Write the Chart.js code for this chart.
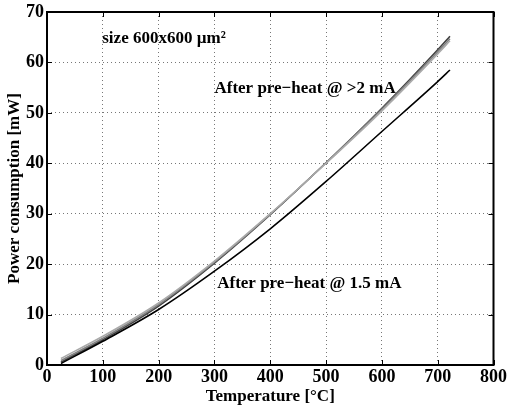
<!DOCTYPE html>
<html>
<head>
<meta charset="utf-8">
<script src="https://cdn.jsdelivr.net/npm/chart.js@4"></script>
<style>
  html, body { margin: 0; padding: 0; background: #fff; }
  #wrap { width: 510px; height: 407px; }
</style>
</head>
<body>
<div id="wrap"><canvas id="powerChart" width="510" height="407"></canvas></div>
<script>
// Temperatura [°C] en la que se midió cada curva
var temps = [25, 100, 200, 300, 400, 500, 600, 700, 722];

// Potencia [mW] - tres medidas después del precalentamiento a >2 mA
var preheat2mA_a = [0.6, 5.0, 11.7, 20.2, 29.8, 40.1, 50.9, 62.5, 65.2];
var preheat2mA_b = [0.9, 5.3, 12.0, 20.4, 29.9, 40.1, 50.7, 62.1, 64.7];
var preheat2mA_c = [1.3, 5.7, 12.3, 20.6, 30.0, 40.0, 50.4, 61.7, 64.3];

// Potencia [mW] - después del precalentamiento a 1.5 mA
var preheat15mA = [0.3, 4.7, 11.0, 18.6, 27.0, 36.4, 46.3, 56.2, 58.5];

var xTicks = [0, 100, 200, 300, 400, 500, 600, 700, 800];
var yTicks = [0, 10, 20, 30, 40, 50, 60, 70];

// Textos dentro del gráfico: [texto, temperatura, potencia]
var notes = [
    ['size 600x600 \u00b5m\u00b2', 99, 64.8],
    ['After pre\u2212heat @ >2 mA', 300, 54.8],
    ['After pre\u2212heat @ 1.5 mA', 305, 16.1]
];

var FONT = 'Liberation Serif';

function toPoints(ys) {
    return temps.map(function(t, i) { return { x: t, y: ys[i] }; });
}

function serie(ys, color) {
    return {
        data: toPoints(ys),
        borderColor: color,
        borderWidth: 1.6,
        pointRadius: 0,
        fill: false,
        cubicInterpolationMode: 'monotone'
    };
}

// Marco negro, marcas hacia adentro y textos
var framePlugin = {
    id: 'frame',
    afterDraw: function(chart) {
        var ctx = chart.ctx;
        var a = chart.chartArea;
        var xs = chart.scales.x, ys = chart.scales.y;
        ctx.save();
        ctx.strokeStyle = '#000';
        ctx.lineWidth = 1;
        ctx.beginPath();
        xTicks.forEach(function(v) {
            var px = Math.round(xs.getPixelForValue(v)) + 0.5;
            ctx.moveTo(px, a.bottom); ctx.lineTo(px, a.bottom - 5);
            ctx.moveTo(px, a.top); ctx.lineTo(px, a.top + 5);
        });
        yTicks.forEach(function(v) {
            var py = Math.round(ys.getPixelForValue(v)) + 0.5;
            ctx.moveTo(a.left, py); ctx.lineTo(a.left + 5, py);
            ctx.moveTo(a.right, py); ctx.lineTo(a.right - 5, py);
        });
        ctx.stroke();
        ctx.lineWidth = 2;
        ctx.strokeRect(a.left, a.top, a.right - a.left, a.bottom - a.top);

        ctx.fillStyle = '#000';
        ctx.font = 'bold 17px "' + FONT + '"';
        ctx.textBaseline = 'middle';
        ctx.textAlign = 'left';
        notes.forEach(function(n) {
            ctx.fillText(n[0], xs.getPixelForValue(n[1]), ys.getPixelForValue(n[2]));
        });
        ctx.restore();
    }
};

var ctx = document.getElementById('powerChart').getContext('2d');
var powerChart = new Chart(ctx, {
    type: 'line',
    data: {
        datasets: [
            serie(preheat15mA, '#000'),
            serie(preheat2mA_c, '#aaaaaa'),
            serie(preheat2mA_b, '#808080'),
            serie(preheat2mA_a, '#404040')
        ]
    },
    options: {
        responsive: false,
        animation: false,
        layout: { padding: { top: 8, right: 12, left: 0, bottom: 0 } },
        plugins: {
            legend: { display: false },
            tooltip: { enabled: false }
        },
        scales: {
            x: {
                type: 'linear',
                min: 0,
                max: 800,
                afterBuildTicks: function(scale) {
                    scale.ticks = xTicks.map(function(v) { return { value: v }; });
                },
                afterFit: function(scale) { scale.height = 42; },
                grid: { color: '#777', lineWidth: 1, drawTicks: false },
                border: { display: false, dash: [1, 3] },
                ticks: {
                    color: '#000',
                    padding: 3,
                    maxRotation: 0,
                    font: { family: FONT, size: 18, weight: 'bold', lineHeight: 1 }
                },
                title: {
                    display: true,
                    text: 'Temperature [\u00b0C]',
                    color: '#000',
                    padding: 0,
                    font: { family: FONT, size: 17, weight: 'bold', lineHeight: 1.2 }
                }
            },
            y: {
                min: 0,
                max: 70,
                afterBuildTicks: function(scale) {
                    scale.ticks = yTicks.map(function(v) { return { value: v }; });
                },
                afterFit: function(scale) { scale.width = 47; },
                grid: { color: '#777', lineWidth: 1, drawTicks: false },
                border: { display: false, dash: [1, 3] },
                ticks: {
                    color: '#000',
                    padding: 3,
                    font: { family: FONT, size: 18, weight: 'bold', lineHeight: 1 }
                },
                title: {
                    display: true,
                    text: 'Power consumption [mW]',
                    color: '#000',
                    padding: 4,
                    font: { family: FONT, size: 17, weight: 'bold', lineHeight: 1.2 }
                }
            }
        }
    },
    plugins: [framePlugin]
});
</script>
</body>
</html>
